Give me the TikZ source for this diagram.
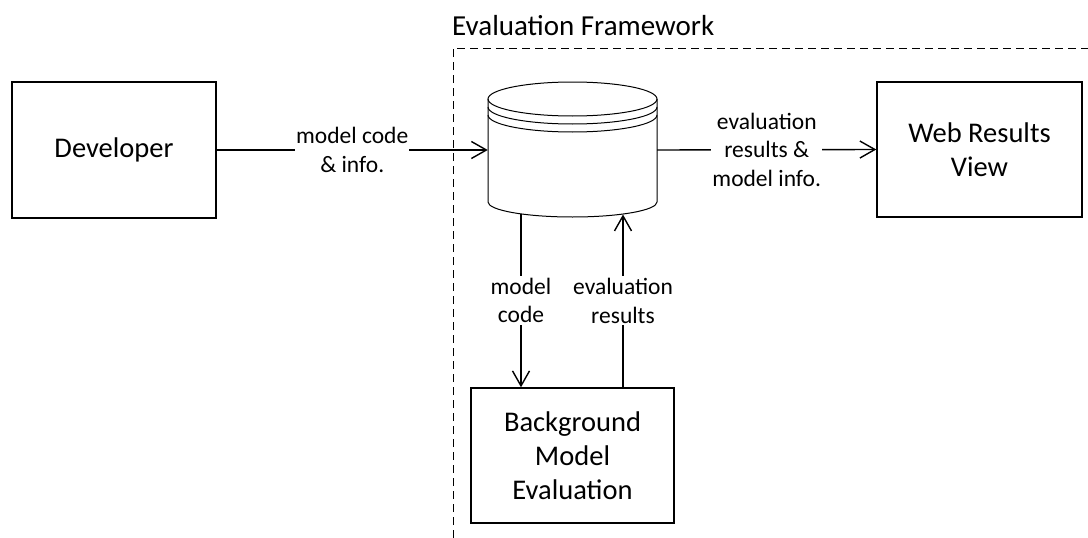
\documentclass[tikz,border=0pt]{standalone}
\usepackage{fontspec}
\setmainfont{Carlito}
\usetikzlibrary{arrows.meta}
\begin{document}
\begin{tikzpicture}[x=1pt,y=-1pt,
  boxfont/.style={font=\fontsize{28.5}{34}\selectfont},
  titlefont/.style={font=\fontsize{29}{34}\selectfont},
  labfont/.style={font=\fontsize{23.5}{28.5}\selectfont},
  block/.style={draw,line width=1.4pt,rectangle,inner sep=0pt,align=center,boxfont},
  flow/.style={line width=1.4pt,-{Straight Barb[length=15pt,width=17pt,line width=1.4pt]}},
  flowlabel/.style={fill=white,inner xsep=1pt,inner ysep=2pt,align=center,labfont},
  frame/.style={line width=1pt,dash pattern=on 8pt off 5pt}]
\useasboundingbox (0,0) rectangle (1088,538);

% framework boundary and its title
\draw[frame] (453,538) -- (453,48) -- (1088,48);
\node[anchor=base west,inner sep=0pt,titlefont] (fwtitle) at (452,35) {Evaluation Framework};

% outer actors
\node[block,minimum width=204pt,minimum height=136pt] (dev) at (114,150) {Developer};
\node[block,minimum width=205pt,minimum height=135pt] (web) at (979.5,149.5) {Web Results\\View};
\node[block,minimum width=203pt,minimum height=135pt] (bg) at (572.5,455.5) {Background\\Model\\Evaluation};

% data store (cylinder); with the flipped y axis, angles 180 -> 0 run along the front
\begin{scope}[line width=1pt]
  \draw (572.5,99) ellipse [x radius=84.5, y radius=17];
  \draw (488,107) arc[start angle=180,end angle=0,x radius=84.5,y radius=17];
  \draw (488,115) arc[start angle=180,end angle=0,x radius=84.5,y radius=17];
  \draw (488,99) -- (488,202) arc[start angle=180,end angle=0,x radius=84.5,y radius=15] -- (657,99);
\end{scope}
\node[minimum width=169pt,minimum height=100pt,inner sep=0pt] (db) at (572.5,150) {};
\coordinate (dbout) at (521,214);
\coordinate (dbin) at (623,214.5);

% flows
\draw[flow] (dev.east) -- node[flowlabel] {model code\\\& info.} (db.west);
\draw[flow] (db.east) -- node[flowlabel] {evaluation\\results \&\\model info.} (web.west);
\draw[flow] (dbout) -- node[flowlabel] {model\\code} (dbout |- bg.north);
\draw[flow] (dbin |- bg.north) -- node[flowlabel] {evaluation\\results} (dbin);
\end{tikzpicture}
\end{document}
